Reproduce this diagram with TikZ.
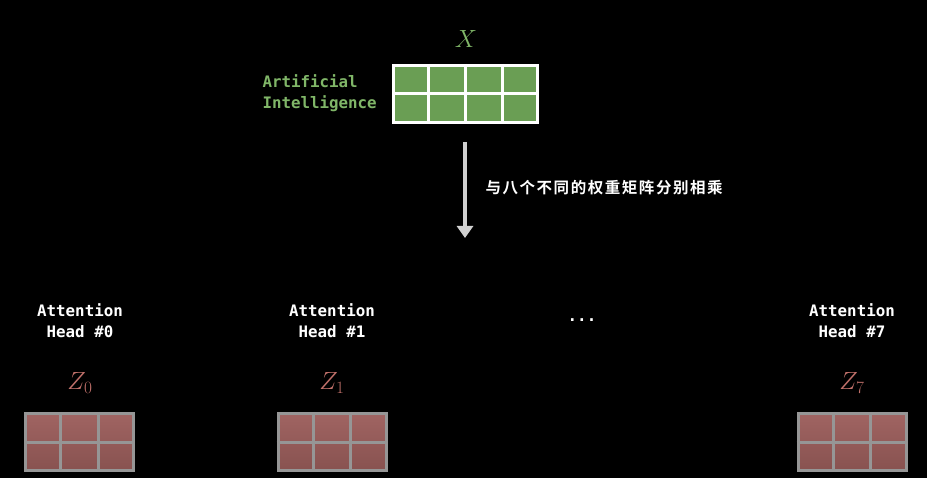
\documentclass[tikz,border=0pt]{standalone}
\usepackage{fontspec}
\setmonofont{DejaVu Sans Mono}
\newfontfamily\cjkfont[LetterSpace=10]{Noto Sans CJK SC Bold}
\usetikzlibrary{calc,arrows.meta}
\definecolor{gfill}{RGB}{106,158,84}
\definecolor{gtext}{RGB}{128,182,104}
\definecolor{rtop}{RGB}{160,100,98}
\definecolor{rbot}{RGB}{136,82,80}
\definecolor{rborder}{RGB}{150,150,150}
\definecolor{ztext}{RGB}{192,112,106}
\begin{document}
\begin{tikzpicture}[x=1pt,y=-1pt,
  xmat/.style={draw=white,line width=3pt,fill=gfill,minimum width=144pt,minimum height=57pt,inner sep=0pt},
  zmat/.style={draw=rborder,line width=3pt,top color=rtop,bottom color=rbot,minimum width=108pt,minimum height=57pt,inner sep=0pt},
  headlbl/.style={text=white,font=\ttfamily\bfseries\fontsize{15.8}{21}\selectfont,align=center},
  zlbl/.style={text=ztext,font=\fontsize{27}{28}\selectfont},
  arr/.style={draw=white!82!black,line width=3.5pt,-{Triangle[length=12pt,width=16pt]}}]
\fill[black] (0,0) rectangle (927,478);
\useasboundingbox (0,0) rectangle (927,478);
% X matrix
\node[xmat] (xm) at (465.5,94) {};
\foreach \f in {0.25,0.5,0.75}
  \draw[white,line width=3pt] ($(xm.north west)!\f!(xm.north east)$) -- ($(xm.south west)!\f!(xm.south east)$);
\draw[white,line width=3pt] (xm.west) -- (xm.east);
\node[text=gtext,font=\fontsize{28}{28}\selectfont] (xlbl) at (466,39) {$X$};
\node[text=gtext,font=\ttfamily\bfseries\fontsize{15.8}{21}\selectfont,align=left,anchor=west] (ai) at (259,93) {Artificial\\Intelligence};
% arrow
\coordinate (as) at (465,142);
\coordinate (ae) at (465,238);
\draw[arr] (as) -- (ae);
\node[text=white,font=\cjkfont\fontsize{15.5}{18}\selectfont,anchor=west] (mul) at (482,188) {与八个不同的权重矩阵分别相乘};
% heads
\node[headlbl] (h0) at (80,321) {Attention\\Head \#0};
\node[headlbl] (h1) at (332,321) {Attention\\Head \#1};
\node[headlbl] (h7) at (852,321) {Attention\\Head \#7};
\node[text=white,font=\ttfamily\bfseries\fontsize{15.8}{18}\selectfont] (dots) at (582,320) {...};
\node[zlbl] (zl0) at (80,383) {$Z_0$};
\node[zlbl] (zl1) at (332,383) {$Z_1$};
\node[zlbl] (zl7) at (852,383) {$Z_7$};
\foreach \n/\x in {z0/79.5,z1/332,z7/852}{
  \node[zmat] (\n) at (\x,442) {};
  \foreach \f in {0.3333,0.6667}
    \draw[rborder,line width=3pt] ($(\n.north west)!\f!(\n.north east)$) -- ($(\n.south west)!\f!(\n.south east)$);
  \draw[rborder,line width=3pt] (\n.west) -- (\n.east);
}
\end{tikzpicture}
\end{document}
